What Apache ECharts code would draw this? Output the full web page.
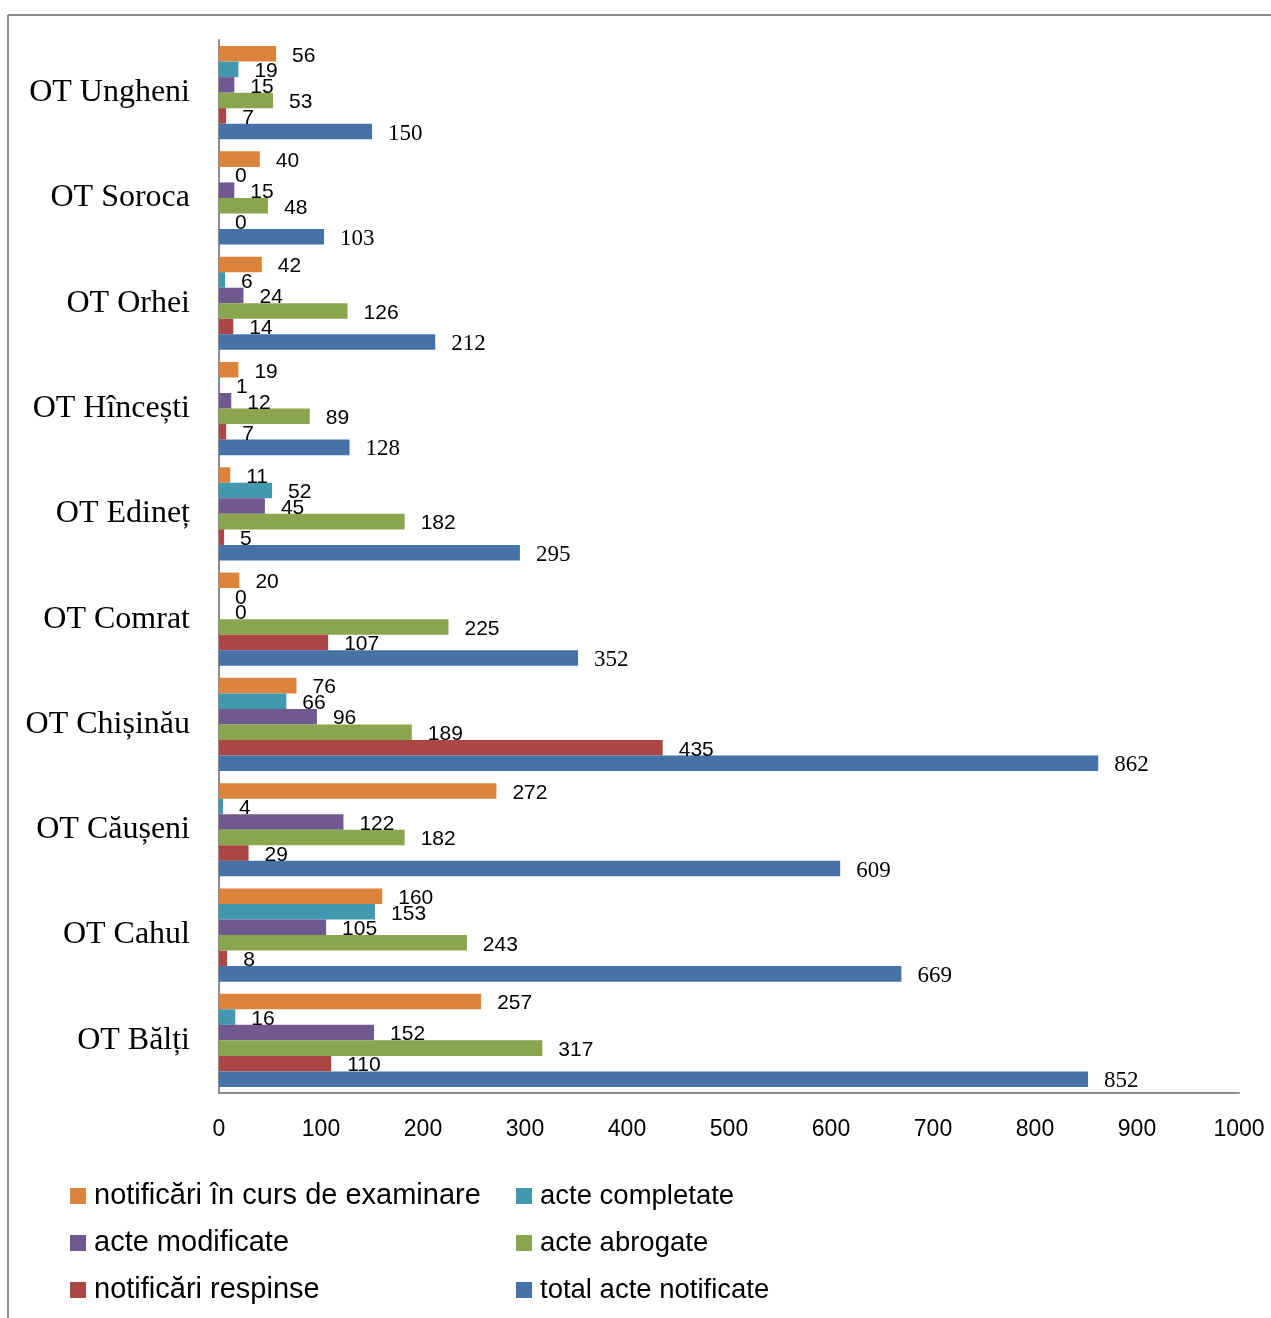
<!DOCTYPE html>
<html>
<head>
<meta charset="utf-8">
<script src="https://cdn.jsdelivr.net/npm/echarts@6/dist/echarts.min.js"></script>
<style>
html,body{margin:0;padding:0;background:#fff;}
#c{width:1271px;height:1318px;}
</style>
</head>
<body>
<div id="c"></div>
<script>
// categories bottom -> top
const categories = ['OT Bălți','OT Cahul','OT Căușeni','OT Chișinău','OT Comrat','OT Edineț','OT Hîncești','OT Orhei','OT Soroca','OT Ungheni'];
const totalActe      = [852, 669, 609, 862, 352, 295, 128, 212, 103, 150];
const respinse       = [110,   8,  29, 435, 107,   5,   7,  14,   0,   7];
const abrogate       = [317, 243, 182, 189, 225, 182,  89, 126,  48,  53];
const modificate     = [152, 105, 122,  96,   0,  45,  12,  24,  15,  15];
const completate     = [ 16, 153,   4,  66,   0,  52,   1,   6,   0,  19];
const inCurs         = [257, 160, 272,  76,  20,  11,  19,  42,  40,  56];
const xTicks = [0,100,200,300,400,500,600,700,800,900,1000];

const names = {
  inCurs: 'notificări în curs de examinare',
  completate: 'acte completate',
  modificate: 'acte modificate',
  abrogate: 'acte abrogate',
  respinse: 'notificări respinse',
  total: 'total acte notificate'
};

function sansLabel(){ return {show:true, position:'right', distance:16, fontFamily:'Liberation Sans', fontSize:21, color:'#000', offset:[0,2]}; }
function serifLabel(){ return {show:true, position:'right', distance:16, fontFamily:'Liberation Serif', fontSize:23, color:'#000', offset:[0,2]}; }

function bar(name, data, color, label){
  return {name:name, type:'bar', data:data, itemStyle:{color:color}, label:label,
          barGap:'0%', barCategoryGap:'11.5%', animation:false};
}

const chart = echarts.init(document.getElementById('c'), null, {renderer:'canvas'});
chart.setOption({
  animation:false,
  backgroundColor:'#fff',
  grid:{left:219, right:32, top:40, bottom:225, containLabel:false},
  xAxis:{type:'value', min:0, max:1000, interval:100,
    axisLine:{show:true, lineStyle:{color:'#8c8c8c', width:2}},
    axisTick:{show:false}, splitLine:{show:false},
    axisLabel:{margin:25, fontFamily:'Liberation Sans', fontSize:23, color:'#000',
      formatter:function(v){return xTicks.indexOf(v)>=0 ? String(v) : '';}}
  },
  yAxis:{type:'category', data:categories,
    axisLine:{show:true, lineStyle:{color:'#8c8c8c', width:2}},
    axisTick:{show:false},
    axisLabel:{margin:29, fontFamily:'Liberation Serif', fontSize:32, color:'#000', padding:[3,0,0,0]}
  },
  legend:[
    {orient:'vertical', left:65, top:1176, itemWidth:16, itemHeight:16, itemGap:17, icon:'rect',
     textStyle:{fontFamily:'Liberation Sans', fontSize:29, color:'#000', lineHeight:30, padding:[0,0,0,3]},
     data:[names.inCurs, names.modificate, names.respinse]},
    {orient:'vertical', left:511, top:1176, itemWidth:16, itemHeight:16, itemGap:17, icon:'rect',
     textStyle:{fontFamily:'Liberation Sans', fontSize:27.5, color:'#000', lineHeight:30, padding:[0,0,0,3]},
     data:[names.completate, names.abrogate, names.total]}
  ],
  graphic:[
    {type:'line', shape:{x1:8, y1:15, x2:1271, y2:15}, style:{stroke:'#8c8c8c', lineWidth:2}},
    {type:'line', shape:{x1:8, y1:15, x2:8, y2:1318}, style:{stroke:'#8c8c8c', lineWidth:2}}
  ],
  series:[
    bar(names.inCurs, inCurs, '#DB843D', sansLabel()),
    bar(names.completate, completate, '#4198AF', sansLabel()),
    bar(names.modificate, modificate, '#71588F', sansLabel()),
    bar(names.abrogate, abrogate, '#89A54E', sansLabel()),
    bar(names.respinse, respinse, '#AA4643', sansLabel()),
    bar(names.total, totalActe, '#4572A7', serifLabel())
  ]
});
</script>
</body>
</html>
